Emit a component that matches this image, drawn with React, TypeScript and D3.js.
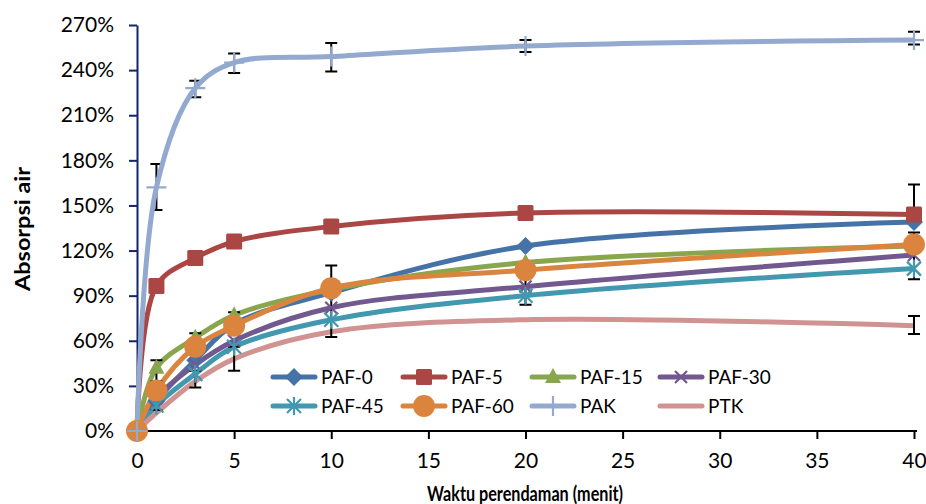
import React, { useEffect, useRef } from 'react';
import * as d3 from 'd3';

// waktu perendaman (menit)
const times = [0, 1, 3, 5, 10, 20, 40];

// absorpsi air (%)
const paf0 = [0, 20, 47, 71, 92, 123, 139];
const paf5 = [0, 96.5, 115, 126, 136, 145, 144];
const paf15 = [0, 42, 62, 77, 94, 112, 123];
const paf30 = [0, 22, 44, 60, 82, 96, 117];
const paf45 = [0, 17, 38, 56, 74, 90, 108];
const paf60 = [0, 27, 56, 70, 95, 107, 124];
const pak = [0, 162, 228, 245, 249, 256, 260];
const ptk = [0, 12, 33, 48, 66, 74, 70];

const seriesNames = ['PAF-0', 'PAF-5', 'PAF-15', 'PAF-30', 'PAF-45', 'PAF-60', 'PAK', 'PTK'];
const seriesValues = [paf0, paf5, paf15, paf30, paf45, paf60, pak, ptk];
const seriesColors = ['#4572A7', '#AA4643', '#89A54E', '#71588F', '#4198AF', '#DB843D', '#93A9CF', '#D19392'];
const seriesMarkers = ['diamond', 'square', 'triangle', 'x', 'star', 'circle', 'plus', 'none'];

// error bars (time, low %, high %)
const errTime = [1, 1, 3, 3, 5, 5, 10, 20, 40, 40, 40];
const errLow = [33, 14, 55, 29, 70, 40, 62.5, 84, 144, 101, 64.5];
const errHigh = [47, 24, 65, 40, 79, 56, 110, 107, 164, 132, 76.5];
const pakErrLow = [0, 147, 222, 238, 239, 252, 257];
const pakErrHigh = [0, 177.5, 233, 251, 258, 260, 265.5];

const xTicks = [0, 5, 10, 15, 20, 25, 30, 35, 40];
const yTicks = [0, 30, 60, 90, 120, 150, 180, 210, 240, 270];

const FONT = 'Lato, Carlito, "Open Sans", sans-serif';

function drawMarker(g: any, type: string, cx: number, cy: number, color: string) {
  if (type === 'diamond') {
    g.append('path').attr('d', `M${cx},${cy - 9}L${cx + 9},${cy}L${cx},${cy + 9}L${cx - 9},${cy}Z`).attr('fill', color);
  } else if (type === 'square') {
    g.append('rect').attr('x', cx - 8).attr('y', cy - 8).attr('width', 16).attr('height', 16)
      .attr('rx', 1.5).attr('fill', color);
  } else if (type === 'triangle') {
    g.append('path').attr('d', `M${cx},${cy - 9}L${cx + 8},${cy + 6}L${cx - 8},${cy + 6}Z`).attr('fill', color);
  } else if (type === 'x') {
    g.append('path').attr('d', `M${cx - 6},${cy - 6}L${cx + 6},${cy + 6}M${cx + 6},${cy - 6}L${cx - 6},${cy + 6}`)
      .attr('stroke', color).attr('stroke-width', 2.2).attr('fill', 'none');
  } else if (type === 'star') {
    g.append('path').attr('d', `M${cx - 7},${cy - 7}L${cx + 7},${cy + 7}M${cx + 7},${cy - 7}L${cx - 7},${cy + 7}M${cx},${cy - 9}L${cx},${cy + 9}`)
      .attr('stroke', color).attr('stroke-width', 2.2).attr('fill', 'none');
  } else if (type === 'circle') {
    g.append('circle').attr('cx', cx).attr('cy', cy).attr('r', 11).attr('fill', color);
  } else if (type === 'plus') {
    g.append('path').attr('d', `M${cx - 10},${cy}L${cx + 10},${cy}M${cx},${cy - 10}L${cx},${cy + 10}`)
      .attr('stroke', color).attr('stroke-width', 2.2).attr('fill', 'none');
  }
}

function drawErrBar(g: any, x: number, y0: number, y1: number) {
  g.append('path')
    .attr('d', `M${x},${y0}L${x},${y1}M${x - 6},${y0}L${x + 6},${y0}M${x - 6},${y1}L${x + 6},${y1}`)
    .attr('stroke', '#000').attr('stroke-width', 2).attr('fill', 'none');
}

export default function App() {
  const ref = useRef<SVGSVGElement>(null);

  useEffect(() => {
    const svg = d3.select(ref.current);
    svg.selectAll('*').remove();

    const xScale = d3.scaleLinear().domain([0, 40]).range([137, 914]);
    const yScale = d3.scaleLinear().domain([0, 270]).range([431, 25]);

    // y axis
    const yAxis = svg.append('g').attr('transform', 'translate(137,0)')
      .call(d3.axisLeft(yScale).tickValues(yTicks).tickSize(8).tickSizeOuter(0).tickPadding(15)
        .tickFormat((d: any) => d + '%'));
    yAxis.select('.domain').attr('stroke', '#10256B').attr('stroke-width', 2);
    yAxis.selectAll('.tick line').attr('stroke', '#10256B').attr('stroke-width', 2);
    yAxis.selectAll('text').attr('font-family', FONT).attr('font-size', 21).attr('fill', '#000');

    // x axis
    const xAxis = svg.append('g').attr('transform', 'translate(0,431)')
      .call(d3.axisBottom(xScale).tickValues(xTicks).tickSize(8).tickSizeOuter(0).tickPadding(14));
    xAxis.select('.domain').attr('stroke', '#000').attr('stroke-width', 2).attr('d', 'M137,0H917');
    xAxis.selectAll('.tick line').attr('stroke', '#000').attr('stroke-width', 2);
    xAxis.selectAll('text').attr('font-family', FONT).attr('font-size', 21).attr('fill', '#000');

    // axis titles
    svg.append('text').attr('transform', 'translate(30,229) rotate(-90)')
      .attr('text-anchor', 'middle').attr('font-family', FONT).attr('font-weight', 700)
      .attr('font-size', 20).attr('textLength', 124).attr('lengthAdjust', 'spacingAndGlyphs')
      .text('Absorpsi air');
    svg.append('text').attr('x', 525).attr('y', 501)
      .attr('text-anchor', 'middle').attr('font-family', FONT).attr('font-weight', 700)
      .attr('font-size', 20).attr('textLength', 196).attr('lengthAdjust', 'spacingAndGlyphs')
      .text('Waktu perendaman (menit)');

    const line = d3.line<number>()
      .x((d, i) => xScale(times[i]))
      .y(d => yScale(d))
      .curve(d3.curveCatmullRom.alpha(0.5));

    // PAK error bars behind lines
    const errG = svg.append('g');
    times.forEach((t, i) => {
      if (i > 0) drawErrBar(errG, xScale(t), yScale(pakErrHigh[i]), yScale(pakErrLow[i]));
    });

    // lines
    seriesValues.forEach((vals, s) => {
      svg.append('path').datum(vals)
        .attr('fill', 'none').attr('stroke', seriesColors[s]).attr('stroke-width', 5)
        .attr('stroke-linejoin', 'round').attr('d', line);
    });

    // error bars
    const errG2 = svg.append('g');
    errTime.forEach((t, i) => drawErrBar(errG2, xScale(t), yScale(errHigh[i]), yScale(errLow[i])));

    // markers
    seriesValues.forEach((vals, s) => {
      const g = svg.append('g');
      vals.forEach((v, i) => drawMarker(g, seriesMarkers[s], xScale(times[i]), yScale(v), seriesColors[s]));
    });

    // legend
    const legCols = [273, 403, 532, 660];
    const legRows = [377, 406];
    seriesNames.forEach((name, s) => {
      const x0 = legCols[s % 4];
      const y0 = legRows[Math.floor(s / 4)];
      const g = svg.append('g');
      g.append('line').attr('x1', x0).attr('x2', x0 + 42).attr('y1', y0).attr('y2', y0)
        .attr('stroke', seriesColors[s]).attr('stroke-width', 5).attr('stroke-linecap', 'round');
      drawMarker(g, seriesMarkers[s], x0 + 21, y0, seriesColors[s]);
      g.append('text').attr('x', x0 + 48).attr('y', y0).attr('dy', '0.35em')
        .attr('font-family', FONT).attr('font-size', 19).attr('fill', '#000').text(name);
    });
  }, []);

  return (
    <div style={{ position: 'absolute', left: 0, top: 0 }}>
      <svg ref={ref} width={926} height={504} style={{ display: 'block', background: '#fff' }} />
    </div>
  );
}
